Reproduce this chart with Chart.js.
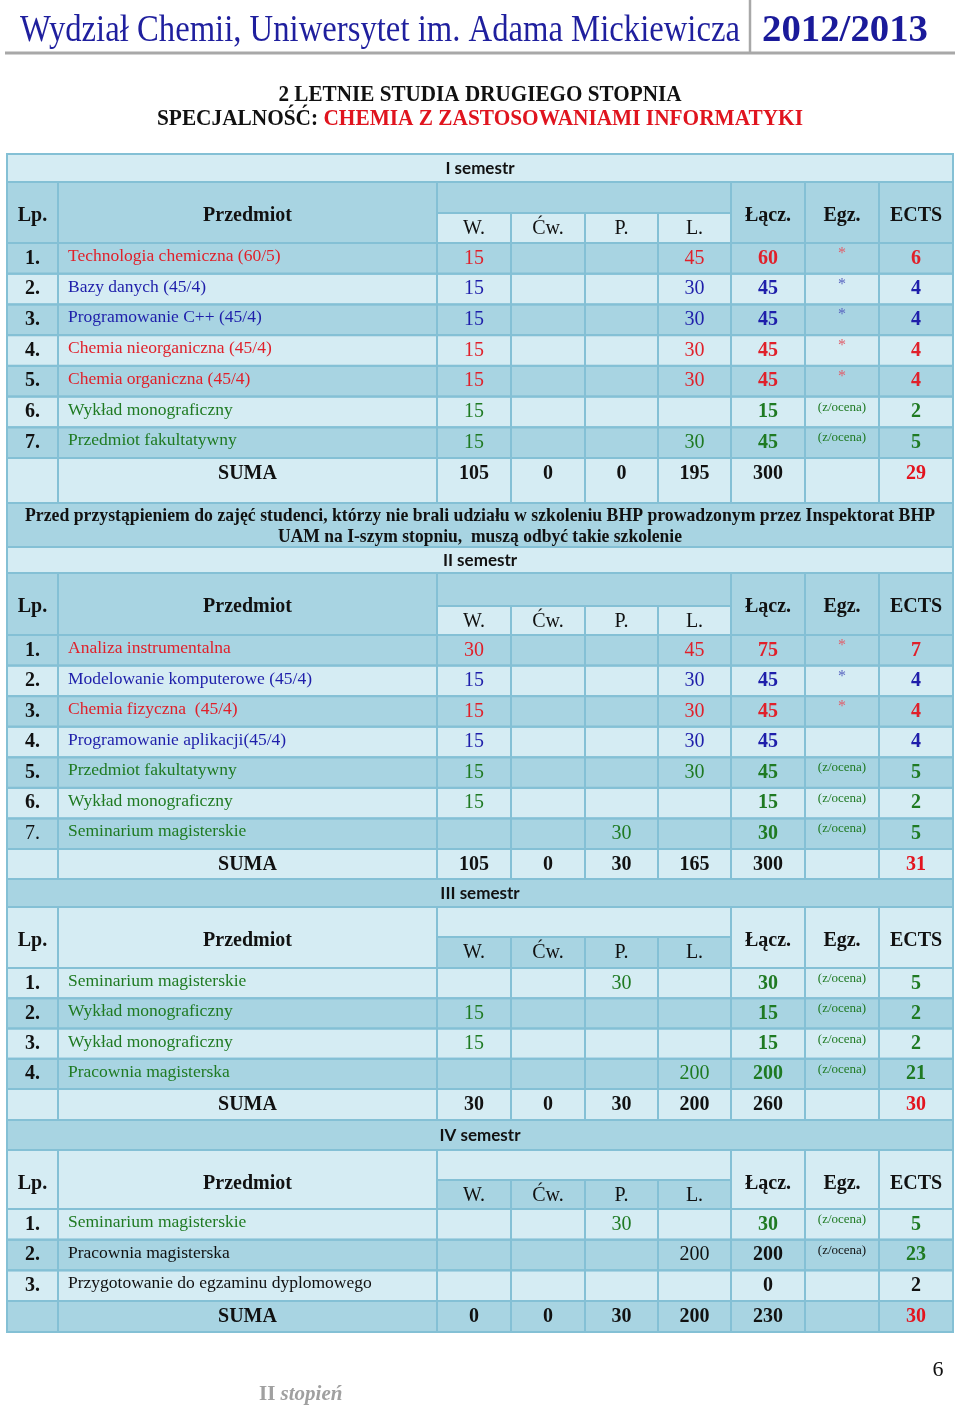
<!DOCTYPE html>
<html>
<head>
<meta charset="utf-8">
<script src="https://cdn.jsdelivr.net/npm/chart.js@4.4.1/dist/chart.umd.min.js"></script>
<style>
  html, body { margin: 0; padding: 0; background: #fff; }
  canvas { display: block; }
</style>
</head>
<body>
<canvas id="plan" width="960" height="1408"></canvas>
<script>
// Naglowki tabeli
const kolumnyGodzin = ['W.', 'Ćw.', 'P.', 'L.'];
const kolumnyKoncowe = ['Łącz.', 'Egz.', 'ECTS'];

// Semestr I
const sem1Lp = ['1.', '2.', '3.', '4.', '5.', '6.', '7.'];
const sem1Przedmiot = ['Technologia chemiczna (60/5)', 'Bazy danych (45/4)', 'Programowanie C++ (45/4)',
  'Chemia nieorganiczna (45/4)', 'Chemia organiczna (45/4)', 'Wykład monograficzny', 'Przedmiot fakultatywny'];
const sem1Typ = ['chem', 'inf', 'inf', 'chem', 'chem', 'fak', 'fak'];
const sem1W = [15, 15, 15, 15, 15, 15, 15];
const sem1Cw = [null, null, null, null, null, null, null];
const sem1P = [null, null, null, null, null, null, null];
const sem1L = [45, 30, 30, 30, 30, null, 30];
const sem1Lacz = [60, 45, 45, 45, 45, 15, 45];
const sem1Egz = ['*', '*', '*', '*', '*', '(z/ocena)', '(z/ocena)'];
const sem1Ects = [6, 4, 4, 4, 4, 2, 5];
const sem1Suma = [105, 0, 0, 195, 300, '', 29];

// Semestr II
const sem2Lp = ['1.', '2.', '3.', '4.', '5.', '6.', '7.'];
const sem2Przedmiot = ['Analiza instrumentalna', 'Modelowanie komputerowe (45/4)', 'Chemia fizyczna  (45/4)',
  'Programowanie aplikacji(45/4)', 'Przedmiot fakultatywny', 'Wykład monograficzny', 'Seminarium magisterskie'];
const sem2Typ = ['chem', 'inf', 'chem', 'inf', 'fak', 'fak', 'fak'];
const sem2W = [30, 15, 15, 15, 15, 15, null];
const sem2Cw = [null, null, null, null, null, null, null];
const sem2P = [null, null, null, null, null, null, 30];
const sem2L = [45, 30, 30, 30, 30, null, null];
const sem2Lacz = [75, 45, 45, 45, 45, 15, 30];
const sem2Egz = ['*', '*', '*', '', '(z/ocena)', '(z/ocena)', '(z/ocena)'];
const sem2Ects = [7, 4, 4, 4, 5, 2, 5];
const sem2Suma = [105, 0, 30, 165, 300, '', 31];

// Semestr III
const sem3Lp = ['1.', '2.', '3.', '4.'];
const sem3Przedmiot = ['Seminarium magisterskie', 'Wykład monograficzny', 'Wykład monograficzny', 'Pracownia magisterska'];
const sem3Typ = ['fak', 'fak', 'fak', 'fak'];
const sem3W = [null, 15, 15, null];
const sem3Cw = [null, null, null, null];
const sem3P = [30, null, null, null];
const sem3L = [null, null, null, 200];
const sem3Lacz = [30, 15, 15, 200];
const sem3Egz = ['(z/ocena)', '(z/ocena)', '(z/ocena)', '(z/ocena)'];
const sem3Ects = [5, 2, 2, 21];
const sem3Suma = [30, 0, 30, 200, 260, '', 30];

// Semestr IV
const sem4Lp = ['1.', '2.', '3.'];
const sem4Przedmiot = ['Seminarium magisterskie', 'Pracownia magisterska', 'Przygotowanie do egzaminu dyplomowego'];
const sem4Typ = ['fak', 'brak', 'brak'];
const sem4TypEcts = ['fak', 'fak', 'brak'];
const sem4W = [null, null, null];
const sem4Cw = [null, null, null];
const sem4P = [30, null, null];
const sem4L = [null, 200, null];
const sem4Lacz = [30, 200, 0];
const sem4Egz = ['(z/ocena)', '(z/ocena)', ''];
const sem4Ects = [5, 23, 2];
const sem4Suma = [0, 0, 30, 200, 230, '', 30];

const uwagaBHP = ['Przed przystąpieniem do zajęć studenci, którzy nie brali udziału w szkoleniu BHP prowadzonym przez Inspektorat BHP',
  'UAM na I-szym stopniu,  muszą odbyć takie szkolenie'];

// --- wyglad ---
const SERIF = '"Liberation Serif", "Times New Roman", serif';
const SANS = 'Lato, "Open Sans", sans-serif';
const CIEMNY = '#a8d4e2';
const JASNY = '#d5ecf3';
const LINIA = '#84c0d5';
const kolorTypu = { chem: '#e0202a', inf: '#1e1eaa', fak: '#1f7a22', brak: '#111111' };
const kolorGwiazdki = { chem: '#e0606c', inf: '#5a66c0', fak: '#5a8a5a', brak: '#555555' };

const krawedzie = [7, 58, 437, 511, 585, 658, 731, 805, 879, 953];

const uklad = [
  { top: 154, headTop: 182, headSub: 213, headBot: 243, sumTop: 458, sumBot: 503,
    tlo: 'L', tloNagl: 'D', tloPod: 'L', tloWier: ['D', 'L', 'D', 'L', 'D', 'L', 'D'], tloSum: 'L', lpZwykle: [] },
  { top: 547, headTop: 573, headSub: 606, headBot: 635, sumTop: 849, sumBot: 879,
    tlo: 'L', tloNagl: 'D', tloPod: 'L', tloWier: ['D', 'L', 'D', 'L', 'D', 'L', 'D'], tloSum: 'L', lpZwykle: [6] },
  { top: 879, headTop: 907, headSub: 937, headBot: 968, sumTop: 1089, sumBot: 1120,
    tlo: 'D', tloNagl: 'L', tloPod: 'D', tloWier: ['L', 'D', 'L', 'D'], tloSum: 'L', lpZwykle: [] },
  { top: 1120, headTop: 1150, headSub: 1180, headBot: 1209, sumTop: 1301, sumBot: 1332,
    tlo: 'D', tloNagl: 'L', tloPod: 'D', tloWier: ['L', 'D', 'L'], tloSum: 'D', lpZwykle: [] }
];

const semestry = [
  { tytul: 'I semestr', lp: sem1Lp, przedmiot: sem1Przedmiot, typ: sem1Typ, typEcts: sem1Typ,
    godziny: [sem1W, sem1Cw, sem1P, sem1L], lacz: sem1Lacz, egz: sem1Egz, ects: sem1Ects, suma: sem1Suma },
  { tytul: 'II semestr', lp: sem2Lp, przedmiot: sem2Przedmiot, typ: sem2Typ, typEcts: sem2Typ,
    godziny: [sem2W, sem2Cw, sem2P, sem2L], lacz: sem2Lacz, egz: sem2Egz, ects: sem2Ects, suma: sem2Suma },
  { tytul: 'III semestr', lp: sem3Lp, przedmiot: sem3Przedmiot, typ: sem3Typ, typEcts: sem3Typ,
    godziny: [sem3W, sem3Cw, sem3P, sem3L], lacz: sem3Lacz, egz: sem3Egz, ects: sem3Ects, suma: sem3Suma },
  { tytul: 'IV semestr', lp: sem4Lp, przedmiot: sem4Przedmiot, typ: sem4Typ, typEcts: sem4TypEcts,
    godziny: [sem4W, sem4Cw, sem4P, sem4L], lacz: sem4Lacz, egz: sem4Egz, ects: sem4Ects, suma: sem4Suma }
];

// napis zwezony / rozciagniety do zadanej szerokosci
function napisNaSzer(ctx, s, x, y, font, kolor, szer, align) {
  ctx.save();
  ctx.font = font;
  const k = szer / ctx.measureText(s).width;
  ctx.translate(x, y);
  ctx.scale(k, 1);
  ctx.fillStyle = kolor;
  ctx.textAlign = align || 'left';
  ctx.textBaseline = 'alphabetic';
  ctx.fillText(s, 0, 0);
  ctx.restore();
}

const planPlugin = {
  id: 'planStudiow',
  afterDraw(chart) {
    const ctx = chart.ctx;
    const X = v => chart.scales.x.getPixelForValue(v);
    const Y = v => chart.scales.y.getPixelForValue(v);
    const komorki = [];
    const napisy = [];

    const kom = (x0, x1, y0, y1, tlo) => komorki.push({ x0, x1, y0, y1, tlo });
    const nap = (s, x, y, font, kolor, align) => {
      if (s === null || s === undefined || s === '') return;
      napisy.push({ s: String(s), x, y, font, kolor, align: align || 'center' });
    };
    const srodek = k => (krawedzie[k] + krawedzie[k + 1]) / 2;
    const c = krawedzie;

    semestry.forEach((sem, si) => {
      const g = uklad[si];
      // wiersz tytulowy
      kom(c[0], c[9], g.top, g.headTop, g.tlo);
      nap(sem.tytul, (c[0] + c[9]) / 2, (g.top + g.headTop) / 2 + 6, 'bold 17px ' + SANS, '#111');
      // naglowek
      kom(c[0], c[1], g.headTop, g.headBot, g.tloNagl);
      kom(c[1], c[2], g.headTop, g.headBot, g.tloNagl);
      kom(c[2], c[6], g.headTop, g.headSub, g.tloNagl);
      kolumnyGodzin.forEach((h, k) => {
        kom(c[2 + k], c[3 + k], g.headSub, g.headBot, g.tloPod);
        nap(h, srodek(2 + k), g.headSub + 20.5, '20px ' + SERIF, '#111');
      });
      kolumnyKoncowe.forEach((h, k) => {
        kom(c[6 + k], c[7 + k], g.headTop, g.headBot, g.tloNagl);
        nap(h, srodek(6 + k), g.headTop + 38.5, 'bold 20px ' + SERIF, '#111');
      });
      nap('Lp.', srodek(0), g.headTop + 38.5, 'bold 20px ' + SERIF, '#111');
      nap('Przedmiot', srodek(1), g.headTop + 38.5, 'bold 20px ' + SERIF, '#111');

      // wiersze przedmiotow
      const n = sem.lp.length;
      const h = (g.sumTop - g.headBot) / n;
      sem.lp.forEach((lp, i) => {
        const y0 = g.headBot + i * h;
        const y1 = y0 + h;
        const t = g.tloWier[i];
        for (let k = 0; k < 9; k++) kom(c[k], c[k + 1], y0, y1, t);
        const kol = kolorTypu[sem.typ[i]];
        const lpFont = (g.lpZwykle.includes(i) ? '' : 'bold ') + '20px ' + SERIF;
        nap(lp, srodek(0), y0 + 20.5, lpFont, '#111');
        nap(sem.przedmiot[i], c[1] + 10, y0 + 18, '17.5px ' + SERIF, kol, 'left');
        sem.godziny.forEach((arr, k) => nap(arr[i], srodek(2 + k), y0 + 20.5, '20px ' + SERIF, kol));
        nap(sem.lacz[i], srodek(6), y0 + 20.5, 'bold 20px ' + SERIF, kol);
        if (sem.egz[i] === '*') {
          nap('*', srodek(7), y0 + 15, '16px ' + SERIF, kolorGwiazdki[sem.typ[i]]);
        } else {
          nap(sem.egz[i], srodek(7), y0 + 14, '13px ' + SERIF, kol);
        }
        nap(sem.ects[i], srodek(8), y0 + 20.5, 'bold 20px ' + SERIF, kolorTypu[sem.typEcts[i]]);
      });

      // suma
      for (let k = 0; k < 9; k++) kom(c[k], c[k + 1], g.sumTop, g.sumBot, g.tloSum);
      nap('SUMA', srodek(1), g.sumTop + 21, 'bold 20px ' + SERIF, '#111');
      sem.suma.forEach((v, k) => {
        nap(v, srodek(2 + k), g.sumTop + 21, 'bold 20px ' + SERIF, k === 6 ? '#e3141e' : '#111');
      });
    });

    // wiersz z uwaga BHP
    kom(c[0], c[9], 503, 547, 'D');

    // tla
    komorki.forEach(k => {
      ctx.fillStyle = k.tlo === 'D' ? CIEMNY : JASNY;
      ctx.fillRect(X(k.x0), Y(k.y0), X(k.x1) - X(k.x0), Y(k.y1) - Y(k.y0));
    });
    // linie
    ctx.strokeStyle = LINIA;
    ctx.lineWidth = 2;
    komorki.forEach(k => {
      ctx.strokeRect(X(k.x0), Y(k.y0), X(k.x1) - X(k.x0), Y(k.y1) - Y(k.y0));
    });
    // napisy
    napisy.forEach(t => {
      ctx.save();
      ctx.font = t.font;
      ctx.fillStyle = t.kolor;
      ctx.textAlign = t.align;
      ctx.textBaseline = 'alphabetic';
      ctx.fillText(t.s, X(t.x), Y(t.y));
      ctx.restore();
    });

    napisNaSzer(ctx, uwagaBHP[0], X(480), Y(521), 'bold 19px ' + SERIF, '#111', 910, 'center');
    napisNaSzer(ctx, uwagaBHP[1], X(480), Y(542), 'bold 19px ' + SERIF, '#111', 404, 'center');

    // naglowek strony
    napisNaSzer(ctx, 'Wydział Chemii, Uniwersytet im. Adama Mickiewicza', X(20), Y(41), '37px ' + SERIF, '#1f1f9e', 720);
    napisNaSzer(ctx, '2012/2013', X(762), Y(41), 'bold 37px ' + SERIF, '#1a1a9a', 166);
    ctx.strokeStyle = '#a8a8a8';
    ctx.lineWidth = 3;
    ctx.beginPath(); ctx.moveTo(X(5), Y(53)); ctx.lineTo(X(955), Y(53)); ctx.stroke();
    ctx.lineWidth = 2.5;
    ctx.beginPath(); ctx.moveTo(X(750), Y(0)); ctx.lineTo(X(750), Y(53)); ctx.stroke();

    // tytul
    napisNaSzer(ctx, '2 LETNIE STUDIA DRUGIEGO STOPNIA', X(480), Y(101), 'bold 24px ' + SERIF, '#111', 403, 'center');
    ctx.save();
    ctx.font = 'bold 24px ' + SERIF;
    const a = 'SPECJALNOŚĆ: ', b = 'CHEMIA Z ZASTOSOWANIAMI INFORMATYKI';
    const wa = ctx.measureText(a).width, wb = ctx.measureText(b).width;
    const k = 646 / (wa + wb);
    ctx.translate(X(157), Y(125));
    ctx.scale(k, 1);
    ctx.textAlign = 'left';
    ctx.fillStyle = '#111'; ctx.fillText(a, 0, 0);
    ctx.fillStyle = '#e0141e'; ctx.fillText(b, wa, 0);
    ctx.restore();

    // stopka
    ctx.save();
    ctx.fillStyle = '#111';
    ctx.font = '22px ' + SERIF;
    ctx.textAlign = 'center';
    ctx.fillText('6', X(938), Y(1376));
    ctx.fillStyle = '#a0a0a0';
    ctx.textAlign = 'left';
    ctx.font = 'bold 21px ' + SERIF;
    ctx.fillText('II ', X(259), Y(1400));
    const wII = ctx.measureText('II ').width;
    ctx.font = 'italic bold 21px ' + SERIF;
    ctx.fillText('stopień', X(259) + wII, Y(1400));
    ctx.restore();
  }
};

new Chart(document.getElementById('plan'), {
  type: 'scatter',
  data: { datasets: [] },
  options: {
    responsive: false,
    animation: false,
    layout: { padding: 0 },
    plugins: { legend: { display: false }, tooltip: { enabled: false } },
    scales: {
      x: { type: 'linear', min: 0, max: 960, display: false },
      y: { type: 'linear', min: 0, max: 1408, reverse: true, display: false }
    }
  },
  plugins: [planPlugin]
});
</script>
</body>
</html>
